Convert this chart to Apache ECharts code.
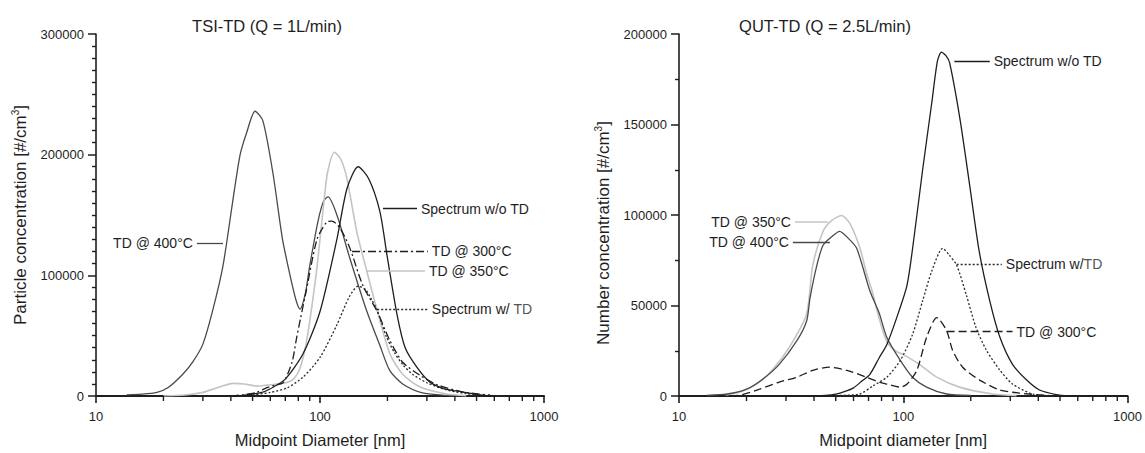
<!DOCTYPE html>
<html><head><meta charset="utf-8">
<script src="https://cdn.jsdelivr.net/npm/echarts@6/dist/echarts.min.js"></script>
<style>html,body{margin:0;padding:0;background:#fff}#c{width:1145px;height:453px}</style>
</head><body><div id="c"></div>
<script>
// ---------- TSI-TD (left) ----------
const tsi400D = [13.7, 16, 18.7, 21, 24.4, 27, 30, 33.3, 36.9, 40.9, 44, 47, 51.3, 55.6, 61.6, 68, 73.5, 78, 81.4, 86, 90, 98, 104, 108.6, 119, 136, 162, 185, 205, 234, 287, 350, 450];
const tsi400V = [1000, 1500, 3000, 7000, 18000, 28000, 43000, 72000, 108000, 163000, 200000, 218000, 236000, 228000, 185000, 130000, 100000, 80000, 72000, 85000, 108000, 145000, 162000, 165000, 150000, 114000, 70000, 42000, 21000, 10000, 2500, 800, 200];
const tsi350D = [20, 25, 30, 35, 40.9, 46, 52, 58, 62, 68, 75, 81, 86, 90, 96, 100, 104, 108, 116, 124, 132, 146, 162, 180, 205, 234, 280, 367, 450];
const tsi350V = [0, 800, 3000, 7000, 10500, 10000, 8200, 9000, 9500, 10500, 13000, 22000, 40000, 62000, 100000, 130000, 160000, 185000, 202000, 196000, 180000, 136000, 103000, 71000, 35000, 18000, 7400, 1600, 300];
const tsi300D = [40, 45, 52, 58, 63, 68.5, 75, 78.6, 82, 87, 97, 107, 113, 123, 136, 155, 180, 205, 234, 280, 332, 435, 575];
const tsi300V = [0, 1000, 3000, 7000, 9000, 11000, 28000, 48000, 65000, 88000, 130000, 144000, 145000, 139000, 122500, 92000, 70000, 46000, 28000, 17000, 9500, 3300, 800];
const tsiWithD = [50, 60, 71, 84, 100, 119, 135, 148, 160, 170, 180, 198, 215, 234, 259, 300, 367, 450, 550, 650];
const tsiWithV = [800, 3000, 6500, 15600, 32000, 59000, 82000, 91000, 88000, 80000, 71000, 49000, 36000, 26000, 18000, 11000, 5000, 2000, 600, 100];
const tsiWoD = [45, 55, 60, 70, 84, 100, 119, 132, 148, 165, 185, 199, 221, 240, 271, 310, 360, 435, 519, 600];
const tsiWoV = [500, 3000, 6000, 14000, 35000, 70000, 130000, 172000, 190000, 180000, 153000, 117000, 67000, 40000, 23800, 11500, 6000, 3300, 800, 200];

// ---------- QUT-TD (right) ----------
const qut400D = [13.3, 16.4, 20, 23.6, 28, 33.6, 37.1, 38.4, 41.2, 43.9, 48, 52, 57, 62, 71, 78, 84.5, 97, 110, 127, 156, 200];
const qut400V = [300, 1100, 3800, 9300, 17500, 30700, 41600, 54200, 72300, 83300, 88000, 91000, 87000, 81600, 58000, 46000, 32300, 19700, 10400, 4900, 1100, 300];
const qut350D = [16, 18.7, 22.2, 26, 31, 37, 39.5, 43.9, 48, 53, 58, 64, 68.5, 73, 78, 84.5, 92, 99.5, 118, 141, 178, 250, 320];
const qut350V = [500, 2200, 6600, 14200, 26800, 45000, 72300, 91000, 97000, 99700, 95000, 82000, 68000, 57000, 43000, 30000, 25000, 23000, 17500, 10400, 4900, 1100, 200];
const qut300D = [15, 18.7, 22.9, 28, 33.6, 39.5, 47, 56, 68.5, 78, 84.5, 97, 104, 115, 127, 141, 156, 166, 184, 219, 270, 330, 450];
const qut300V = [0, 500, 3800, 7700, 10400, 14200, 15900, 14200, 10400, 7700, 6600, 4900, 6600, 14200, 32300, 43300, 36200, 25200, 15900, 8800, 3300, 1600, 200];
const qutWithD = [50, 64, 73, 84.5, 97, 110, 122, 134, 150, 160, 173, 191, 211, 235, 270, 307, 377, 450];
const qutWithV = [300, 1100, 5500, 10400, 19700, 34000, 52600, 69000, 81600, 78000, 72300, 55900, 37800, 25200, 14200, 6600, 1100, 200];
const qutWoD = [40, 45, 50, 55, 60, 65, 71, 78, 84.5, 93.5, 104, 112, 122, 134, 142, 148, 155, 161, 179, 198, 218, 243, 270, 307, 355, 405, 480, 550];
const qutWoV = [0, 300, 1000, 2500, 4500, 8000, 12000, 21000, 28500, 43300, 61400, 88800, 125000, 162000, 185000, 190000, 188000, 184000, 153000, 116000, 80000, 52600, 32300, 17500, 8800, 3300, 800, 0];

// ---------- axes ticks / labels ----------
const xMinorTicks = [20, 30, 40, 50, 60, 70, 80, 90, 200, 300, 400, 500, 600, 700, 800, 900];
const titles = ['TSI-TD (Q = 1L/min)', 'QUT-TD (Q = 2.5L/min)'];
const xNames = ['Midpoint Diameter [nm]', 'Midpoint diameter [nm]'];
const yNames = ['Particle concentration [#/cm', 'Number concentration [#/cm'];

const FONT = 'Liberation Sans, Arial, Helvetica, sans-serif';
const INK = '#1e1e1e';
const pairs = (d, v) => d.map((x, i) => [x, v[i]]);

const styles = {
  wo:   { color: '#1e1e1e', width: 1.3, type: 'solid' },
  with: { color: '#2a2a2a', width: 1.3, type: [2, 2] },
  t300L:{ color: '#1e1e1e', width: 1.3, type: [8, 3, 2, 3] },
  t300R:{ color: '#1e1e1e', width: 1.3, type: [8, 4] },
  t350: { color: '#c4c4c4', width: 1.6, type: 'solid' },
  t400: { color: '#4a4a4a', width: 1.3, type: 'solid' }
};

const noteRich = {
  a: { fontSize: 14, fontFamily: FONT, color: INK },
  b: { fontSize: 14, fontFamily: FONT, color: '#555' }
};

function note(d1, d2, y, text, pos, st) {
  return {
    silent: true, symbol: ['none', 'none'], animation: false,
    lineStyle: { color: st.color, width: st.width, type: st.type },
    emphasis: { disabled: true },
    label: { show: true, position: pos, formatter: text, fontSize: 14, color: INK, fontFamily: FONT, distance: 4, rich: noteRich },
    data: [[{ coord: [d1, y] }, { coord: [d2, y] }]]
  };
}

function line(name, idx, d, v, st, mark) {
  return {
    name, type: 'line', xAxisIndex: idx, yAxisIndex: idx,
    data: pairs(d, v), showSymbol: false, smooth: 0.25, silent: true,
    lineStyle: { color: st.color, width: st.width, type: st.type },
    itemStyle: { color: st.color },
    markLine: mark, z: 3
  };
}

function minorSeries(idx) {
  return {
    type: 'custom', coordinateSystem: 'cartesian2d', xAxisIndex: idx, yAxisIndex: idx, silent: true, clip: false, z: 10,
    data: xMinorTicks.map(v => [v, 0]),
    encode: { x: 0, y: 1 },
    renderItem: (p, api) => {
      const c = api.coord([api.value(0), 0]);
      return { type: 'line', shape: { x1: c[0], y1: c[1], x2: c[0], y2: c[1] + 5 }, style: { stroke: INK, lineWidth: 1.4 } };
    }
  };
}

function xAxis(idx) {
  return {
    type: 'log', logBase: 10, min: 10, max: 1000, gridIndex: idx,
    name: xNames[idx], nameLocation: 'middle', nameGap: 35,
    nameTextStyle: { fontSize: 16.5, color: INK, fontFamily: FONT },
    axisLine: { show: true, lineStyle: { color: INK, width: 2 } },
    axisTick: { show: true, length: 7, lineStyle: { color: INK, width: 1.6 } },
    minorTick: { show: false },
    axisLabel: { fontSize: 13, color: INK, fontFamily: FONT, margin: 14, formatter: v => String(Math.round(v)) },
    splitLine: { show: false }
  };
}

function yAxis(idx, max, interval, minorSplit, shift) {
  return {
    type: 'value', min: 0, max, interval, gridIndex: idx,
    name: '{a|' + yNames[idx] + '}{s|3}{a|]}', nameLocation: 'middle', nameGap: 66, nameRotate: 90,
    nameTextStyle: { fontFamily: FONT, color: INK, padding: [0, shift, 0, 0], rich: {
      a: { fontSize: 17, fontFamily: FONT, color: INK, lineHeight: 20 },
      s: { fontSize: 10, fontFamily: FONT, color: INK, lineHeight: 20, padding: [0, 0, 9, 0] }
    } },
    axisLine: { show: true, lineStyle: { color: INK, width: 1.6 } },
    axisTick: { show: true, length: 8, lineStyle: { color: INK, width: 1.5 } },
    minorTick: { show: true, splitNumber: minorSplit, length: 4, lineStyle: { color: INK, width: 1.4 } },
    axisLabel: { fontSize: 13, color: INK, fontFamily: FONT, margin: 12, formatter: v => String(v) },
    splitLine: { show: false }, minorSplitLine: { show: false }
  };
}

const chart = echarts.init(document.getElementById('c'), null, { renderer: 'svg' });
chart.setOption({
  animation: false,
  backgroundColor: '#fff',
  textStyle: { fontFamily: FONT },
  title: [
    { text: titles[0], left: 262, top: 12, textAlign: 'center', textStyle: { fontSize: 16.5, fontWeight: 'normal', color: INK, fontFamily: FONT } },
    { text: titles[1], left: 820, top: 12, textAlign: 'center', textStyle: { fontSize: 16.5, fontWeight: 'normal', color: INK, fontFamily: FONT } }
  ],
  grid: [
    { left: 96, top: 34, width: 448, height: 365 },
    { left: 679, top: 34, width: 449, height: 365 }
  ],
  xAxis: [xAxis(0), xAxis(1)],
  yAxis: [yAxis(0, 300000, 100000, 10, 0), yAxis(1, 200000, 50000, 2, 36)],
  series: [
    line('TD @ 400°C', 0, tsi400D, tsi400V, styles.t400, note(28.2, 36.9, 126600, 'TD @ 400°C', 'start', styles.t400)),
    line('TD @ 350°C', 0, tsi350D, tsi350V, styles.t350, note(162, 294, 103600, 'TD @ 350°C', 'end', styles.t350)),
    line('TD @ 300°C', 0, tsi300D, tsi300V, styles.t300L, note(139, 303, 120000, 'TD @ 300°C', 'end', styles.t300L)),
    line('Spectrum w/ TD', 0, tsiWithD, tsiWithV, styles.with, note(180, 303, 72300, '{a|Spectrum w/ }{b|TD}', 'end', styles.with)),
    line('Spectrum w/o TD', 0, tsiWoD, tsiWoV, styles.wo, note(191, 271, 155300, 'Spectrum w/o TD', 'end', styles.wo)),
    minorSeries(0),
    line('TD @ 350°C', 1, qut350D, qut350V, styles.t350, note(32.9, 46.1, 96400, 'TD @ 350°C', 'start', styles.t350)),
    line('TD @ 400°C', 1, qut400D, qut400V, styles.t400, note(32.2, 47.1, 84900, 'TD @ 400°C', 'start', styles.t400)),
    line('TD @ 300°C', 1, qut300D, qut300V, styles.t300R, note(156, 307, 35600, 'TD @ 300°C', 'end', styles.t300R)),
    line('Spectrum w/ TD', 1, qutWithD, qutWithV, styles.with, note(173, 275, 72900, '{a|Spectrum w/}{b|TD}', 'end', styles.with)),
    line('Spectrum w/o TD', 1, qutWoD, qutWoV, styles.wo, note(169, 243, 185200, 'Spectrum w/o TD', 'end', styles.wo)),
    minorSeries(1)
  ]
});
</script>
</body></html>
